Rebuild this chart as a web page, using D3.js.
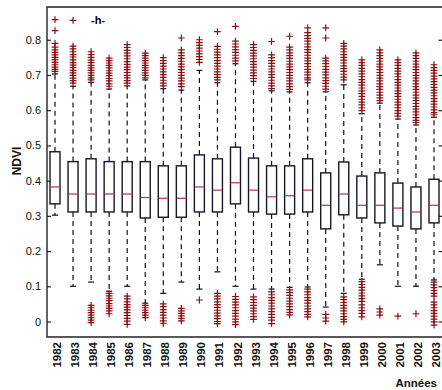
<!DOCTYPE html>
<html>
<head>
<meta charset="utf-8">
<script src="https://cdn.jsdelivr.net/npm/d3@7"></script>
<style>
  html, body { margin: 0; padding: 0; background: #fff; }
  svg { display: block; font-family: "Liberation Sans", Arial, Helvetica, sans-serif; }
</style>
</head>
<body>
<svg id="chart" width="442" height="390"></svg>
<script>
// Annual NDVI distributions, 1982-2003
const years = ["1982","1983","1984","1985","1986","1987","1988","1989","1990","1991","1992",
               "1993","1994","1995","1996","1997","1998","1999","2000","2001","2002","2003"];

const q1      = [0.334,0.311,0.311,0.311,0.311,0.294,0.296,0.296,0.311,0.311,0.334,
                 0.311,0.305,0.305,0.311,0.263,0.303,0.294,0.280,0.271,0.263,0.280];
const medians = [0.382,0.362,0.362,0.362,0.362,0.352,0.350,0.350,0.382,0.373,0.394,
                 0.373,0.354,0.357,0.373,0.330,0.362,0.330,0.330,0.322,0.311,0.330];
const q3      = [0.482,0.454,0.462,0.454,0.454,0.454,0.442,0.442,0.473,0.462,0.495,
                 0.464,0.442,0.442,0.462,0.422,0.453,0.413,0.422,0.393,0.382,0.404];
const whiskerLow  = [0.302,0.100,0.112,0.086,0.100,0.052,0.080,0.112,0.092,0.141,0.100,
                     0.092,0.092,0.097,0.098,0.041,0.080,0.120,0.161,0.100,0.100,0.118];
const whiskerHigh = [0.703,0.668,0.679,0.660,0.669,0.686,0.661,0.657,0.713,0.678,0.732,
                     0.682,0.655,0.652,0.678,0.652,0.672,0.590,0.620,0.575,0.558,0.580];

const outliersHigh = [
  [0.857,0.826,0.790,0.779,0.771,0.764,0.757,0.750,0.743,0.736,0.729,0.722,0.716,0.710],
  [0.855,0.782,0.774,0.766,0.758,0.751,0.743,0.735,0.728,0.721,0.713,0.706,0.699,0.691,0.684,0.677],
  [0.766,0.758,0.750,0.742,0.735,0.727,0.720,0.713,0.706,0.699,0.692,0.686],
  [0.748,0.741,0.734,0.727,0.720,0.712,0.705,0.698,0.690,0.683,0.675,0.668],
  [0.786,0.778,0.770,0.762,0.754,0.746,0.738,0.730,0.722,0.715,0.707,0.699,0.692,0.684,0.677],
  [0.762,0.755,0.748,0.741,0.734,0.727,0.720,0.713,0.706,0.699,0.692],
  [0.749,0.741,0.733,0.725,0.717,0.709,0.701,0.693,0.685,0.677,0.669],
  [0.805,0.771,0.763,0.755,0.747,0.739,0.731,0.723,0.715,0.707,0.699,0.691,0.683,0.675,0.667],
  [0.800,0.792,0.784,0.776,0.768,0.760,0.752,0.744,0.736],
  [0.823,0.781,0.773,0.765,0.757,0.749,0.741,0.733,0.725,0.717,0.709,0.701,0.693,0.686],
  [0.838,0.796,0.788,0.780,0.772,0.764,0.756,0.748,0.740],
  [0.786,0.778,0.770,0.762,0.754,0.746,0.738,0.730,0.722,0.714,0.706,0.698,0.690],
  [0.795,0.757,0.749,0.741,0.733,0.725,0.717,0.709,0.701,0.693,0.685,0.677,0.669,0.661],
  [0.810,0.779,0.771,0.763,0.755,0.747,0.739,0.731,0.723,0.715,0.707,0.699,0.691,0.683,0.675,0.667,0.659],
  [0.834,0.820,0.812,0.804,0.796,0.788,0.780,0.772,0.764,0.756,0.748,0.740,0.732,0.724,0.716,0.708,0.700,0.692,0.686],
  [0.834,0.805,0.748,0.740,0.732,0.724,0.716,0.708,0.700,0.692,0.684,0.676,0.668,0.660],
  [0.790,0.782,0.774,0.766,0.758,0.750,0.742,0.734,0.726,0.718,0.710,0.702,0.694,0.686],
  [0.743,0.735,0.727,0.719,0.711,0.703,0.695,0.687,0.679,0.671,0.663,0.655,0.647,0.639,0.631,0.623,0.615,0.607,0.599],
  [0.771,0.763,0.755,0.747,0.739,0.731,0.723,0.715,0.707,0.699,0.691,0.683,0.675,0.667,0.659,0.651,0.643,0.635,0.627],
  [0.743,0.735,0.727,0.719,0.711,0.703,0.695,0.687,0.679,0.671,0.663,0.655,0.647,0.639,0.631,0.623,0.615,0.607,0.599,0.591,0.583],
  [0.763,0.755,0.747,0.739,0.731,0.723,0.715,0.707,0.699,0.691,0.683,0.675,0.667,0.659,0.651,0.643,0.635,0.627,0.619,0.611,0.603,0.595,0.587,0.579,0.571,0.565],
  [0.729,0.721,0.713,0.705,0.697,0.689,0.681,0.673,0.665,0.657,0.649,0.641,0.633,0.625,0.617,0.609,0.601,0.593,0.587]
];

const outliersLow = [
  [],
  [],
  [0.046,0.039,0.032,0.025,0.018,0.011,0.004,-0.003],
  [0.080,0.073,0.066,0.059,0.051,0.044,0.037,0.030,0.022],
  [0.072,0.064,0.056,0.048,0.041,0.033,0.025,0.017,0.009,0.001,-0.008],
  [0.046,0.039,0.032,0.025,0.018,0.011],
  [0.050,0.042,0.034,0.026,0.018,0.010,0.002,-0.005],
  [0.037,0.030,0.023,0.016,0.009,0.002],
  [0.061],
  [0.080,0.072,0.064,0.056,0.048,0.040,0.032,0.024,0.016,0.008,0.000,-0.006],
  [0.071,0.063,0.055,0.047,0.039,0.031,0.023,0.015,0.007,-0.001,-0.009],
  [0.070,0.062,0.054,0.046,0.038,0.030,0.022,0.014,0.006],
  [0.084,0.076,0.068,0.060,0.052,0.044,0.036,0.028,0.020,0.012,0.004,-0.006],
  [0.090,0.082,0.074,0.066,0.058,0.050,0.042,0.034,0.026,0.019],
  [0.092,0.084,0.076,0.068,0.060,0.052,0.044,0.036,0.028,0.020,0.013],
  [0.020,0.010,0.001],
  [0.070,0.062,0.054,0.046,0.038,0.030,0.022,0.014,0.006,-0.001],
  [0.113,0.105,0.097,0.089,0.081,0.073,0.065,0.057,0.047,0.039,0.031,0.023,0.013],
  [0.036,0.027,0.018],
  [0.015],
  [0.022],
  [0.112,0.104,0.096,0.088,0.080,0.072,0.055,0.047,0.039,0.031,0.023,0.015,0.007,-0.001,-0.010]
];

const yTicks = [0, 0.1, 0.2, 0.3, 0.4, 0.5, 0.6, 0.7, 0.8];

const svg = d3.select("#chart");
const frame = { left: 47, right: 443.5, top: 7, bottom: 337 };

const x = d3.scalePoint().domain(years).range([55, 434]);
const y = d3.scaleLinear().domain([-0.044, 0.893]).range([frame.bottom, frame.top]);

const boxW = 10, capW = 6, plusHalf = 3.4;
const boxColor = "#16162a", medColor = "#c8283a", outColor = "#8a1214";

const rows = years.map((yr, i) => ({
  yr, q1: q1[i], med: medians[i], q3: q3[i],
  lo: whiskerLow[i], hi: whiskerHigh[i],
  outs: outliersHigh[i].concat(outliersLow[i])
}));

const g = svg.append("g");

// whiskers (dashed) and caps
const wh = g.append("g").attr("stroke", "#111").attr("stroke-width", 1.2);
rows.forEach(d => {
  const cx = x(d.yr);
  wh.append("line").attr("x1", cx).attr("x2", cx).attr("y1", y(d.q3)).attr("y2", y(d.hi))
    .attr("stroke-dasharray", "5,4");
  wh.append("line").attr("x1", cx).attr("x2", cx).attr("y1", y(d.q1)).attr("y2", y(d.lo))
    .attr("stroke-dasharray", "5,4");
  wh.append("line").attr("x1", cx - capW / 2).attr("x2", cx + capW / 2).attr("y1", y(d.hi)).attr("y2", y(d.hi));
  wh.append("line").attr("x1", cx - capW / 2).attr("x2", cx + capW / 2).attr("y1", y(d.lo)).attr("y2", y(d.lo));
});

// boxes
g.append("g").selectAll("rect").data(rows).join("rect")
  .attr("x", d => x(d.yr) - boxW / 2)
  .attr("width", boxW)
  .attr("y", d => y(d.q3))
  .attr("height", d => y(d.q1) - y(d.q3))
  .attr("fill", "none")
  .attr("stroke", boxColor)
  .attr("stroke-width", 1.4);

// medians
g.append("g").selectAll("line").data(rows).join("line")
  .attr("x1", d => x(d.yr) - boxW / 2 + 0.7)
  .attr("x2", d => x(d.yr) + boxW / 2 - 0.7)
  .attr("y1", d => y(d.med)).attr("y2", d => y(d.med))
  .attr("stroke", medColor).attr("stroke-width", 1.2);

// outliers as "+" markers
const pts = rows.flatMap(d => d.outs.map(v => ({ yr: d.yr, v })));
const plus = g.append("g").attr("stroke", outColor).attr("stroke-width", 1.2);
plus.selectAll("path").data(pts).join("path")
  .attr("d", d => {
    const cx = x(d.yr), cy = y(d.v);
    return `M${cx - plusHalf},${cy}H${cx + plusHalf}M${cx},${cy - plusHalf}V${cy + plusHalf}`;
  })
  .attr("fill", "none");

// frame
const fr = svg.append("g").attr("stroke", "#222").attr("stroke-width", 1.4).attr("fill", "none");
fr.append("path").attr("d",
  `M${frame.right},${frame.top}H${frame.left}V${frame.bottom}H${frame.right}`);
fr.append("line").attr("x1", frame.right).attr("x2", frame.right)
  .attr("y1", frame.top).attr("y2", frame.bottom);

// y axis: inward ticks on both sides
const yAxisL = d3.axisLeft(y).tickValues(yTicks).tickSizeInner(-4).tickSizeOuter(0)
  .tickPadding(6).tickFormat(d => d === 0 ? "0" : d3.format(".1f")(d));
const ax = svg.append("g").attr("transform", `translate(${frame.left},0)`).call(yAxisL);
ax.select(".domain").remove();
ax.selectAll("line").attr("stroke", "#222").attr("stroke-width", 1.2);
ax.selectAll("text").attr("font-size", 11).attr("fill", "#111");

const yAxisR = d3.axisRight(y).tickValues(yTicks).tickSizeInner(-5).tickSizeOuter(0).tickFormat("");
const axR = svg.append("g").attr("transform", `translate(${frame.right},0)`).call(yAxisR);
axR.select(".domain").remove();
axR.selectAll("line").attr("stroke", "#222").attr("stroke-width", 1.2);

// year labels, rotated
svg.append("g").selectAll("text").data(years).join("text")
  .attr("transform", d => `translate(${x(d) + 2},${frame.bottom + 5}) rotate(-90)`)
  .attr("text-anchor", "end")
  .attr("dy", "0.35em")
  .attr("font-size", 11.5)
  .attr("font-weight", "bold")
  .attr("fill", "#111")
  .text(d => d);

// axis titles
svg.append("text")
  .attr("transform", `translate(17,161) rotate(-90)`)
  .attr("text-anchor", "middle").attr("dy", "0.35em")
  .attr("font-size", 12).attr("font-weight", "bold").attr("fill", "#111")
  .text("NDVI");

svg.append("text")
  .attr("x", 437).attr("y", 387)
  .attr("text-anchor", "end")
  .attr("font-size", 11.5).attr("font-weight", "bold").attr("fill", "#111")
  .text("Années");

svg.append("text")
  .attr("x", 98).attr("y", 24)
  .attr("text-anchor", "middle")
  .attr("font-size", 11).attr("font-weight", "bold").attr("fill", "#000")
  .text("-h-");
</script>
</body>
</html>
